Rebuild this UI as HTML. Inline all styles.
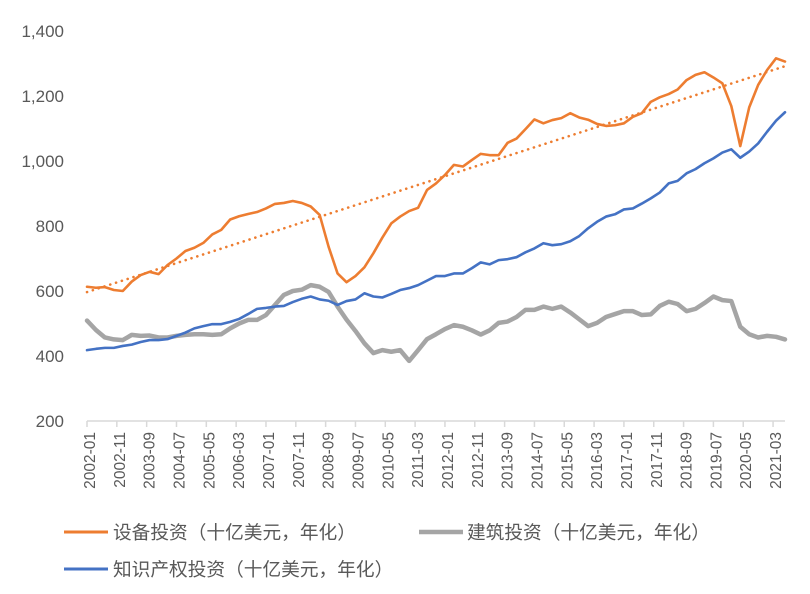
<!DOCTYPE html>
<html><head><meta charset="utf-8">
<style>
body{margin:0;background:#fff;}
svg{display:block;font-family:"Liberation Sans","Noto Sans CJK SC",sans-serif;}
</style></head>
<body>
<svg id="chart" width="810" height="594" viewBox="0 0 810 594">
<g id="grid"></g>
<g id="xaxis"></g>
<g id="series"></g>
<g>
  <g>
    <line x1="64" y1="532" x2="108" y2="532" stroke="#ED7D31" stroke-width="3"/>
    <text x="113" y="539" font-size="18.7" fill="#595959">设备投资（十亿美元，年化）</text>
  </g>
  <g>
    <line x1="419" y1="532" x2="463" y2="532" stroke="#A5A5A5" stroke-width="4.5"/>
    <text x="467" y="539" font-size="18.7" fill="#595959">建筑投资（十亿美元，年化）</text>
  </g>
  <g>
    <line x1="64" y1="569" x2="108" y2="569" stroke="#4472C4" stroke-width="3"/>
    <text x="113" y="576" font-size="18.7" fill="#595959">知识产权投资（十亿美元，年化）</text>
  </g>
</g>
</svg>
<script>
const equipment=[613,610,612,603,600,629,649,659,652,680,700,723,733,748,774,788,820,830,837,843,854,868,871,877,871,860,834,736,654,627,646,673,716,764,808,829,846,856,911,931,957,988,983,1003,1022,1018,1018,1056,1069,1098,1128,1116,1126,1132,1147,1134,1127,1114,1108,1110,1116,1136,1147,1182,1196,1206,1220,1249,1265,1273,1257,1239,1169,1046,1165,1234,1280,1316,1306];
const structures=[509,480,457,451,449,465,462,463,457,457,462,465,467,467,465,467,485,500,511,511,526,557,588,600,604,618,613,597,552,512,477,439,409,418,413,418,385,418,452,467,483,495,490,479,466,479,502,506,520,542,542,552,545,552,534,513,492,502,520,529,538,538,526,528,554,567,560,538,545,563,583,572,569,490,467,457,462,459,451];
const ipInvest=[418,422,425,425,431,435,443,449,449,452,462,472,485,492,498,498,505,514,529,545,548,552,554,566,576,583,574,570,557,569,574,593,583,580,591,603,609,618,632,646,646,654,654,670,688,682,695,698,704,719,731,747,741,744,753,769,793,813,829,836,851,854,869,885,903,931,939,962,975,993,1008,1026,1036,1010,1029,1054,1090,1124,1150];
const yTicks=[200,400,600,800,1000,1200,1400];
const yTickLabels=["200","400","600","800","1,000","1,200","1,400"];
const xTickLabels=["2002-01","2002-11","2003-09","2004-07","2005-05","2006-03","2007-01","2007-11","2008-09","2009-07","2010-05","2011-03","2012-01","2012-11","2013-09","2014-07","2015-05","2016-03","2017-01","2017-11","2018-09","2019-07","2020-05","2021-03"];

const NS="http://www.w3.org/2000/svg";
const X0=87,X1=785,Y0=421,Y1=31,VMIN=200,VMAX=1400;
const n=equipment.length;
function xs(i){return X0+(X1-X0)*i/(n-1);}
function ys(v){return Y0-(v-VMIN)/(VMAX-VMIN)*(Y0-Y1);}
function mk(tag,attrs,parent){const e=document.createElementNS(NS,tag);for(const k in attrs)e.setAttribute(k,attrs[k]);parent.appendChild(e);return e;}

const grid=document.getElementById('grid');
yTicks.forEach((v,k)=>{
  const t=mk('text',{x:64,y:ys(v)+6,'text-anchor':'end','font-size':17,fill:'#595959'},grid);
  
  
  t.textContent=yTickLabels[k];
});
const xa=document.getElementById('xaxis');
const ax=mk('line',{x1:X0,y1:Y0,x2:X1,y2:Y0,stroke:'#D9D9D9','stroke-width':1.5},xa);


const monthPx=(X1-X0)/((n-1)*3);
for(let k=0;k<=24;k++){
  const x=X0+k*10*monthPx;
  if(x>X1+1)break;
  const tk=mk('line',{x1:x,y1:Y0,x2:x,y2:Y0+6,stroke:'#D9D9D9','stroke-width':1.5},xa);
  
  
}
xTickLabels.forEach((lab,k)=>{
  const x=X0+k*10*monthPx+8;
  const t=mk('text',{x:0,y:0,transform:`translate(${x},432) rotate(-90)`,'text-anchor':'end','font-size':15.5,fill:'#595959'},xa);
  
  
  t.textContent=lab;
});

const sg=document.getElementById('series');
function line(data,color,w,name){
  const d=data.map((v,i)=>(i?'L':'M')+xs(i).toFixed(2)+','+ys(v).toFixed(2)).join(' ');
  const p=mk('path',{d:d,fill:'none',stroke:color,'stroke-width':w,'stroke-linejoin':'round','stroke-linecap':'round'},sg);
  
  
}
line(structures,'#A5A5A5',4.5,'structures-line');
line(ipInvest,'#4472C4',2.6,'ip-investment-line');
line(equipment,'#ED7D31',2.6,'equipment-line');
let sx=0,sy=0,sxx=0,sxy=0;
equipment.forEach((v,i)=>{sx+=i;sy+=v;sxx+=i*i;sxy+=i*v;});
const b=(n*sxy-sx*sy)/(n*sxx-sx*sx),a=(sy-b*sx)/n;
const tr=mk('line',{x1:xs(0),y1:ys(a),x2:xs(n-1),y2:ys(a+b*(n-1)),stroke:'#ED7D31','stroke-width':2.6,'stroke-dasharray':'0.1 6','stroke-linecap':'round'},sg);


</script>
</body></html>
